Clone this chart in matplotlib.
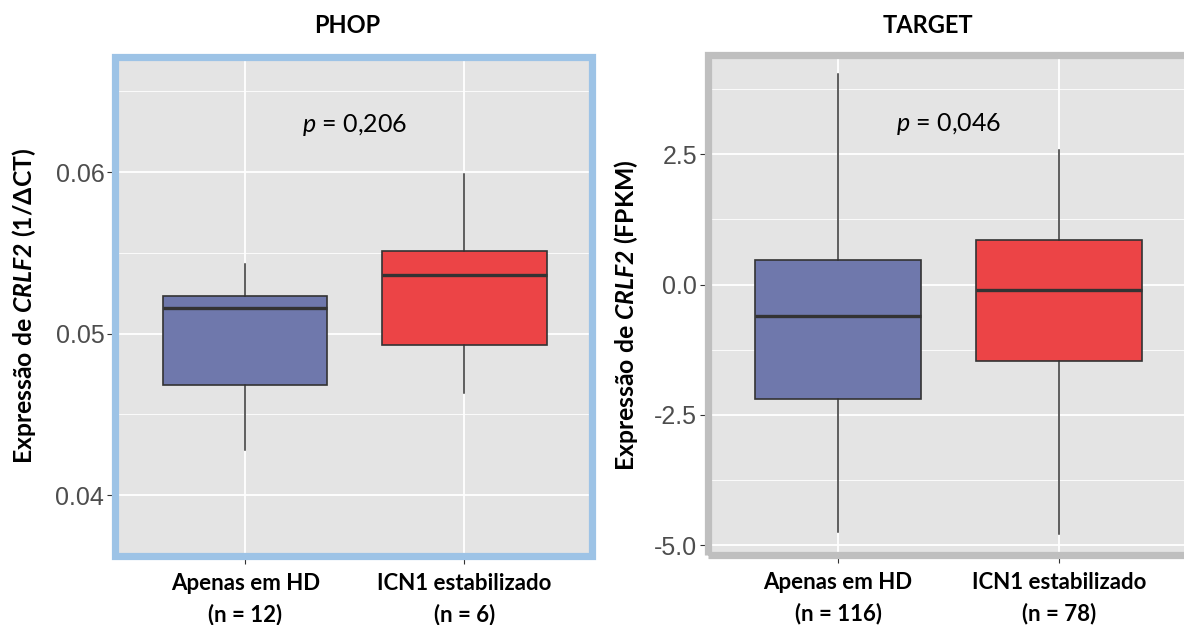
import matplotlib
matplotlib.use('Agg')
import matplotlib.pyplot as plt
from matplotlib.patches import Rectangle

### fonts
plt.rcParams['font.family'] = ['Lato', 'DejaVu Sans']
plt.rcParams['mathtext.fontset'] = 'custom'
plt.rcParams['mathtext.rm'] = 'Lato'
plt.rcParams['mathtext.it'] = 'Lato:italic'
plt.rcParams['mathtext.bf'] = 'Lato:bold'
plt.rcParams['mathtext.bfit'] = 'Lato:italic:bold'

### data
phop_labels = ['Apenas em HD\n(n = 12)', 'ICN1 estabilizado\n(n = 6)']
phop_whislo = [0.0428, 0.0463]
phop_q1 = [0.0468, 0.0493]
phop_med = [0.0516, 0.0536]
phop_q3 = [0.0523, 0.0551]
phop_whishi = [0.0543, 0.0599]
phop_yticks = [0.04, 0.05, 0.06]
phop_yticklabels = ['0.04', '0.05', '0.06']
phop_pvalue = '0,206'

target_labels = ['Apenas em HD\n(n = 116)', 'ICN1 estabilizado\n(n = 78)']
target_whislo = [-4.75, -4.79]
target_q1 = [-2.20, -1.46]
target_med = [-0.60, -0.11]
target_q3 = [0.48, 0.86]
target_whishi = [4.05, 2.58]
target_yticks = [-5.0, -2.5, 0.0, 2.5]
target_yticklabels = ['-5.0', '-2.5', '0.0', '2.5']
target_pvalue = '0,046'

box_colors = ['#6F78AC', '#EC4446']
panel_bg = '#E4E4E4'
edge = '#333333'

### figure
fig = plt.figure(figsize=(11.84, 6.25), dpi=100)
W, H = 1184., 625.

def px_axes(left, top, right, bottom):
    return fig.add_axes([left / W, 1 - bottom / H, (right - left) / W, (bottom - top) / H])

def draw_panel(ax, labels, whislo, q1, med, q3, whishi, yticks, yticklabels,
               minor, xlim, ylim, border, title, title_x, ylabel, ylabel_x, ylabel_y,
               pval, pval_y):
    ax.set_facecolor(panel_bg)
    stats = []
    for i in range(len(labels)):
        stats.append(dict(whislo=whislo[i], q1=q1[i], med=med[i], q3=q3[i], whishi=whishi[i], fliers=[]))
    bp = ax.bxp(stats, positions=[1, 2], widths=0.75, patch_artist=True, showcaps=False,
                boxprops=dict(edgecolor=edge, linewidth=1.2),
                whiskerprops=dict(color=edge, linewidth=1.1),
                medianprops=dict(color=edge, linewidth=2.4))
    for patch, c in zip(bp['boxes'], box_colors):
        patch.set_facecolor(c)
    ax.set_xticks([1, 2])
    ax.set_xticklabels(labels, fontsize=16, fontweight='bold', color='black', linespacing=1.55)
    ax.set_yticks(yticks)
    ax.set_yticklabels(yticklabels, fontsize=18, color='#4D4D4D', family='Liberation Sans')
    ax.set_yticks(minor, minor=True)
    ### limits after ticks, so the ticks do not widen them
    ax.set_xlim(xlim)
    ax.set_ylim(ylim)
    ax.tick_params(axis='both', which='major', length=5.8, width=0.8, color=edge)
    ax.tick_params(axis='y', which='major', pad=1.5)
    ax.tick_params(axis='x', which='major', pad=7)
    ax.tick_params(axis='y', which='minor', length=0)
    ax.grid(True, which='major', color='white', linewidth=1.3)
    ax.grid(True, which='minor', axis='y', color='white', linewidth=0.6)
    ax.set_axisbelow(True)
    for s in ax.spines.values():
        s.set_visible(False)
    ax.add_patch(Rectangle((0, 0), 1, 1, transform=ax.transAxes, fill=False,
                           edgecolor=border, linewidth=5.2, clip_on=False, zorder=10,
                           joinstyle='miter'))
    ax.text(1.5, pval_y, '$\\mathit{p}$ = ' + pval, fontsize=18, ha='center', va='center')
    fig.text(title_x / W, 1 - 25.5 / H, title, fontsize=17, fontweight='bold',
             ha='center', va='center')
    fig.text(ylabel_x / W, 1 - ylabel_y / H, ylabel, fontsize=17.8, fontweight='bold',
             rotation=90, ha='center', va='center')

### PHOP
ax1 = px_axes(114.5, 57, 591.5, 555.5)
draw_panel(ax1, phop_labels, phop_whislo, phop_q1, phop_med, phop_q3, phop_whishi,
           phop_yticks, phop_yticklabels, [0.045, 0.055, 0.065],
           (0.403, 2.58), (0.03627, 0.06712), '#9DC3E6', 'PHOP', 347,
           'Expressão de $\\mathbfit{CRLF2}$ (1/ΔCT)', 24.5, 306, phop_pvalue, 0.0629)

### TARGET
ax2 = px_axes(707.5, 54.5, 1191.6, 554.5)
draw_panel(ax2, target_labels, target_whislo, target_q1, target_med, target_q3, target_whishi,
           target_yticks, target_yticklabels, [-3.75, -1.25, 1.25, 3.75],
           (0.409, 2.6), (-5.18, 4.415), '#BFBFBF', 'TARGET', 928,
           'Expressão de $\\mathbfit{CRLF2}$ (FPKM)', 626, 315, target_pvalue, 3.08)

fig.savefig('out.png', dpi=100)
